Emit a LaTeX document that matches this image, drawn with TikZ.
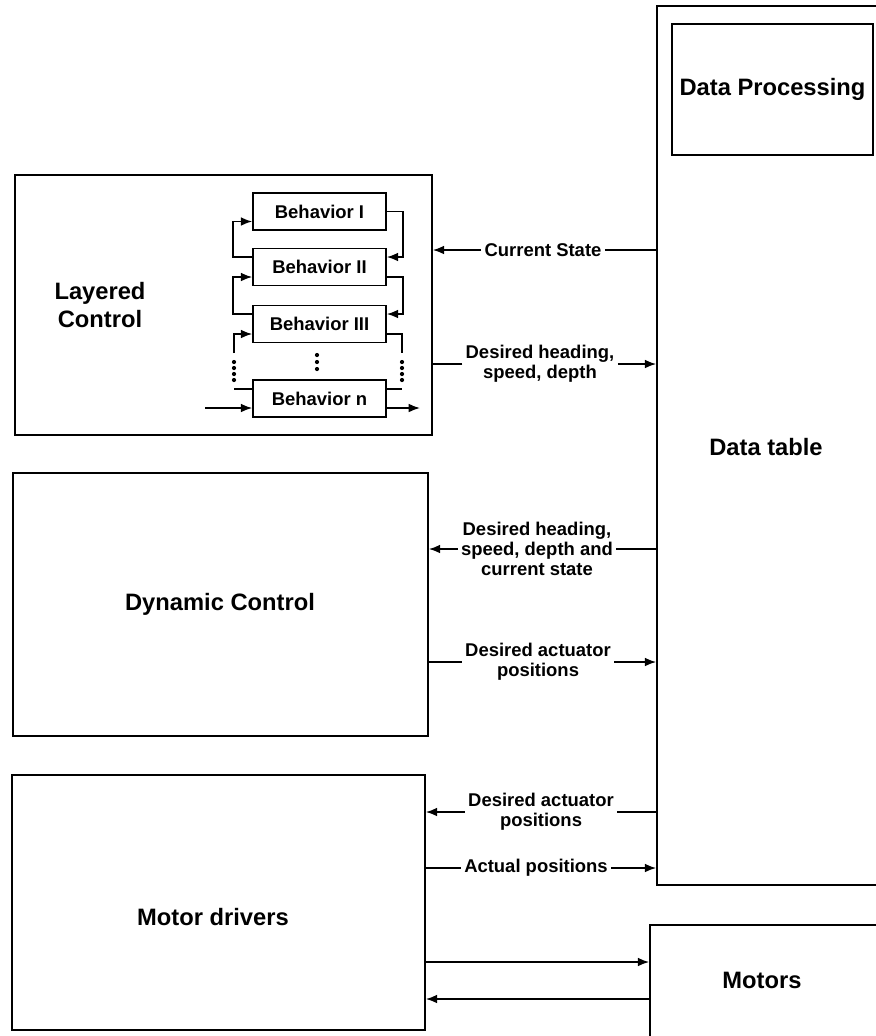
\documentclass[tikz,border=0pt]{standalone}
\usepackage{fontspec}
\setmainfont{Liberation Sans}
\usetikzlibrary{arrows.meta,fit}

\begin{document}
\begin{tikzpicture}[x=0.02cm,y=-0.02cm,line width=0.9pt,
    >={Latex[length=6.5pt,width=5pt]},
    box/.style={draw,inner sep=0pt},
    beh/.style={draw,minimum width=2.66cm,minimum height=0.74cm,inner sep=0pt,
      font=\fontsize{10.5}{12}\selectfont\bfseries},
    big/.style={font=\fontsize{13.5}{15.5}\selectfont\bfseries,align=center},
    lbl/.style={font=\fontsize{10.5}{11.5}\selectfont\bfseries,align=center,inner sep=1.5pt}]
  \useasboundingbox (0,0) rectangle (876,1036);
  \clip (0,0) rectangle (876,1036);
  % main blocks
  \node[box,fit={(15,175)(432,435)}] (lc) {};
  \node[box,fit={(13,473)(428,736)}] (dc) {};
  \node[box,fit={(12,775)(425,1030)}] (md) {};
  \node[box,fit={(657,6)(895,885)}] (dt) {};
  \node[box,fit={(672,24)(873,155)}] (dp) {};
  \node[box,fit={(650,925)(895,1060)}] (mo) {};
  \node[big] at (100,305) {Layered\\Control};
  \node[big] at (220,604) {Dynamic Control};
  \node[big] at (213,917) {Motor drivers};
  \node[big] at (766,447) {Data table};
  \node[big] at (dp.center) {Data Processing};
  \node[big] at (762,980) {Motors};
  % behaviors
  \node[beh] (b1) at (319.5,211.5) {Behavior I};
  \node[beh] (b2) at (319.5,267) {Behavior II};
  \node[beh] (b3) at (319.5,324) {Behavior III};
  \node[beh] (bn) at (319.5,398.5) {Behavior n};
  \coordinate (ll3) at (234,353);
  \coordinate (rr3) at (402,353);
  \coordinate (lln) at (234,389);
  \coordinate (rrn) at (402,389);
  \coordinate (src) at (205,408);
  \coordinate (snk) at (420,408);
  \draw[->] ([yshift=0.2cm]b2.west) -- ++(-19,0) |- ([yshift=-0.2cm]b1.west);
  \draw[->] ([yshift=0.2cm]b3.west) -- ++(-19,0) |- ([yshift=-0.2cm]b2.west);
  \draw[->] (ll3) |- ([yshift=-0.2cm]b3.west);
  \draw (lln) -- (lln -| bn.west);
  \draw[->] (src) -- (src -| bn.west);
  \draw[->] (b1.east) -- ++(16,0) |- ([yshift=0.2cm]b2.east);
  \draw[->] ([yshift=-0.2cm]b2.east) -- ++(16,0) |- ([yshift=0.2cm]b3.east);
  \draw ([yshift=-0.2cm]b3.east) -| (rr3);
  \draw (rrn -| bn.east) -- (rrn);
  \draw[->] (snk -| bn.east) -- (snk);
  \foreach \yy in {362,368,374,380} {
    \fill (234,\yy) circle (1.2pt);
    \fill (402,\yy) circle (1.2pt);
  }
  \foreach \yy in {355,362,369} \fill (317,\yy) circle (1.2pt);
  % signals
  \node[lbl] (cs) at (543,250) {Current State};
  \draw[->] (cs.west) -- (cs.west -| lc.east);
  \draw (cs.east) -- (cs.east -| dt.west);
  \node[lbl] (dh) at (540,364) {Desired heading,\\speed, depth};
  \draw (dh.west) -- (dh.west -| lc.east);
  \draw[->] (dh.east) -- (dh.east -| dt.west);
  \node[lbl] (dhs) at (537,549) {Desired heading,\\speed, depth and\\current state};
  \draw[->] (dhs.west) -- (dhs.west -| dc.east);
  \draw (dhs.east) -- (dhs.east -| dt.west);
  \node[lbl] (dap) at (538,662) {Desired actuator\\positions};
  \draw (dap.west) -- (dap.west -| dc.east);
  \draw[->] (dap.east) -- (dap.east -| dt.west);
  \node[lbl] (dam) at (541,812) {Desired actuator\\positions};
  \draw[->] (dam.west) -- (dam.west -| md.east);
  \draw (dam.east) -- (dam.east -| dt.west);
  \node[lbl] (act) at (536,868) {Actual positions};
  \draw (act.west) -- (act.west -| md.east);
  \draw[->] (act.east) -- (act.east -| dt.west);
  \draw[->] (md.east |- 0,962) -- (mo.west |- 0,962);
  \draw[->] (mo.west |- 0,999) -- (md.east |- 0,999);
\end{tikzpicture}
\end{document}
